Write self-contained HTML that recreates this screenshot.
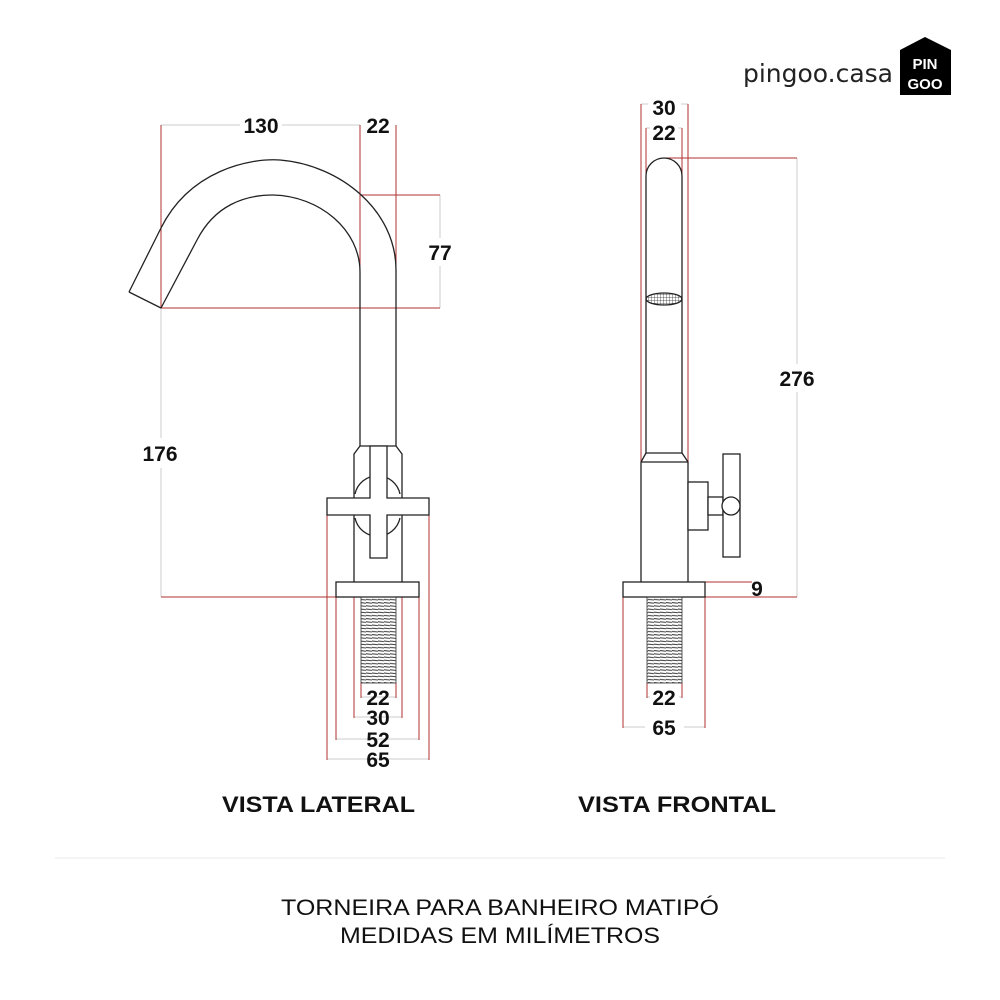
<!DOCTYPE html>
<html><head><meta charset="utf-8"><style>
html,body{margin:0;padding:0;background:#fff;}
svg{display:block;}
text{font-family:"Liberation Sans",sans-serif;}
.d{font-weight:bold;font-size:21px;fill:#111;text-anchor:middle;}
</style></head><body>
<svg width="1000" height="1000" viewBox="0 0 1000 1000" xmlns="http://www.w3.org/2000/svg">
<defs>
<pattern id="thr" width="6" height="3.2" patternUnits="userSpaceOnUse">
<line x1="0" y1="1" x2="6" y2="1.6" stroke="#333" stroke-width="1"/>
</pattern>
<pattern id="grid" width="3" height="3" patternUnits="userSpaceOnUse">
<path d="M0 0H3M0 0V3" stroke="#333" stroke-width="0.8" fill="none"/>
</pattern>
</defs>
<rect width="1000" height="1000" fill="#fff"/>

<!-- logo -->
<text x="818" y="82" font-size="25" fill="#222" text-anchor="middle" style="font-family:'DejaVu Sans',sans-serif;">pingoo.casa</text>
<path d="M900 50 L925 37 L951 50 L951 95 L900 95 Z" fill="#000"/>
<text x="925" y="69" font-size="15" font-weight="bold" fill="#fff" text-anchor="middle">PIN</text>
<text x="925" y="89" font-size="15" font-weight="bold" fill="#fff" text-anchor="middle">GOO</text>

<!-- LATERAL dims gray -->
<g stroke="#ccc" stroke-width="1" fill="none">
<line x1="161" y1="125" x2="240" y2="125"/><line x1="282" y1="125" x2="360" y2="125"/>
<line x1="440" y1="195" x2="440" y2="238"/><line x1="440" y1="266" x2="440" y2="308"/>
<line x1="161" y1="308" x2="161" y2="438"/><line x1="161" y1="468" x2="161" y2="597"/>
<line x1="361" y1="697" x2="396" y2="697"/>
<line x1="354" y1="717" x2="402" y2="717"/>
<line x1="336" y1="739" x2="419" y2="739"/>
<line x1="327" y1="759" x2="429" y2="759"/>
</g>
<g stroke="#b03030" stroke-width="1" fill="none">
<line x1="161" y1="125" x2="161" y2="308"/>
<line x1="360" y1="125" x2="360" y2="308"/>
<line x1="396" y1="125" x2="396" y2="308"/>
<line x1="360" y1="195" x2="440" y2="195"/>
<line x1="161" y1="308" x2="440" y2="308"/>
<line x1="161" y1="597" x2="336" y2="597"/>
<line x1="327" y1="515" x2="327" y2="760"/><line x1="429" y1="515" x2="429" y2="760"/>
<line x1="336" y1="597" x2="336" y2="740"/><line x1="419" y1="597" x2="419" y2="740"/>
<line x1="354" y1="597" x2="354" y2="718"/><line x1="402" y1="597" x2="402" y2="718"/>
<line x1="361" y1="683" x2="361" y2="698"/><line x1="396" y1="683" x2="396" y2="698"/>
</g>
<!-- lateral faucet -->
<g stroke="#222" stroke-width="1.3" fill="none">
<path d="M129 292 L161 228 C190 170 250 158 280 160 C340 165 396 210 396 270 L396 446"/>
<path d="M161 308 L197 240 C215 205 245 195 273 195 C320 196 360 230 360 272 L360 446"/>
<path d="M129 292 L161 308"/>
<path d="M360 446 L354 454 L354 582 M396 446 L402 454 L402 582 M360 446 L396 446"/>
<path d="M355 494 A23 23 0 0 1 400 494 M355 518 A23 23 0 0 0 400 518" />
</g>
<g stroke="#222" stroke-width="1.3" fill="#fff">
<path d="M370 446 L387 446 L387 498 L429 498 L429 515 L387 515 L387 558 L370 558 L370 515 L327 515 L327 498 L370 498 Z"/>
<rect x="336" y="582" width="83" height="15"/>
<rect x="361" y="597" width="35" height="86" fill="url(#thr)" stroke="#333" stroke-width="0.8"/>
</g>
<text class="d" x="261" y="133">130</text>
<text class="d" x="378" y="133">22</text>
<text class="d" x="440" y="260">77</text>
<text class="d" x="160" y="461">176</text>
<text class="d" x="378" y="705">22</text>
<text class="d" x="378" y="725">30</text>
<text class="d" x="378" y="747">52</text>
<text class="d" x="378" y="767">65</text>

<!-- FRONTAL -->
<g stroke="#ccc" stroke-width="1" fill="none">
<line x1="641" y1="104" x2="648" y2="104"/><line x1="681" y1="104" x2="688" y2="104"/>
<line x1="646" y1="128" x2="650" y2="128"/><line x1="678" y1="128" x2="682" y2="128"/>
<line x1="797" y1="158" x2="797" y2="364"/><line x1="797" y1="392" x2="797" y2="597"/>
<line x1="647" y1="697" x2="650" y2="697"/><line x1="679" y1="697" x2="682" y2="697"/>
<line x1="623" y1="727" x2="645" y2="727"/><line x1="684" y1="727" x2="705" y2="727"/>
</g>
<g stroke="#b03030" stroke-width="1" fill="none">
<line x1="641" y1="104" x2="641" y2="462"/><line x1="688" y1="104" x2="688" y2="462"/>
<line x1="646" y1="128" x2="646" y2="300"/><line x1="682" y1="128" x2="682" y2="300"/>
<line x1="664" y1="158" x2="797" y2="158"/>
<line x1="705" y1="597" x2="797" y2="597"/>
<line x1="705" y1="582" x2="752" y2="582"/>
<line x1="623" y1="597" x2="623" y2="728"/><line x1="705" y1="597" x2="705" y2="728"/>
<line x1="647" y1="683" x2="647" y2="698"/><line x1="682" y1="683" x2="682" y2="698"/>
</g>
<g stroke="#222" stroke-width="1.3" fill="#fff">
<path d="M646 453 L646 176 A18 18 0 0 1 682 176 L682 453 Z" fill="none"/>
<path d="M646 453 L641 462 L641 582 M682 453 L688 462 L688 582 M641 462 L688 462" fill="none"/>
<ellipse cx="664" cy="299" rx="18" ry="6" fill="url(#grid)"/>
<rect x="688" y="482" width="20" height="48"/>
<rect x="708" y="497" width="15" height="18"/>
<rect x="723" y="454" width="17" height="103"/>
<circle cx="731" cy="506" r="9"/>
<rect x="623" y="582" width="82" height="15"/>
<rect x="647" y="597" width="35" height="86" fill="url(#thr)" stroke="#333" stroke-width="0.8"/>
</g>
<text class="d" x="664" y="115">30</text>
<text class="d" x="664" y="140">22</text>
<text class="d" x="797" y="386">276</text>
<text class="d" x="757" y="596">9</text>
<text class="d" x="664" y="705">22</text>
<text class="d" x="664" y="735">65</text>

<text x="222" y="812" font-size="22" font-weight="bold" fill="#111" textLength="193" lengthAdjust="spacingAndGlyphs">VISTA LATERAL</text>
<text x="578" y="812" font-size="22" font-weight="bold" fill="#111" textLength="198" lengthAdjust="spacingAndGlyphs">VISTA FRONTAL</text>
<line x1="55" y1="858" x2="945" y2="858" stroke="#f0f0f0" stroke-width="1.5"/>
<text x="281" y="915" font-size="22" fill="#111" textLength="438" lengthAdjust="spacingAndGlyphs">TORNEIRA PARA BANHEIRO MATIPÓ</text>
<text x="340" y="943" font-size="22" fill="#111" textLength="320" lengthAdjust="spacingAndGlyphs">MEDIDAS EM MILÍMETROS</text>
</svg>
</body></html>
